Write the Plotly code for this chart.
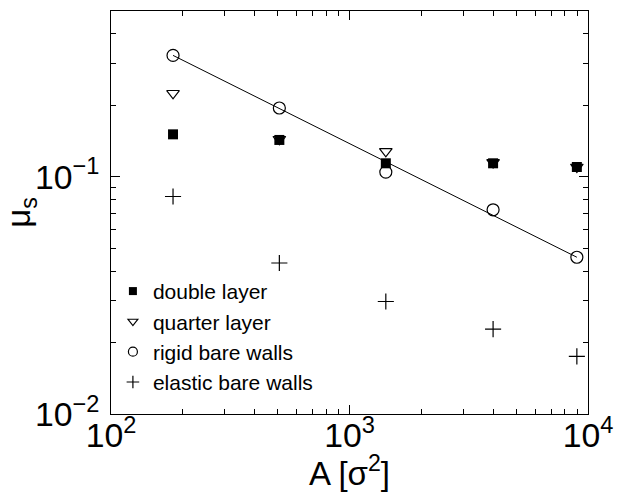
import plotly.graph_objects as go

# Data
area = [182, 508, 1420, 4000, 8980]            # A [sigma^2]
double_layer = [0.151, 0.143, 0.114, 0.114, 0.110]
quarter_layer = [0.225, 0.144, 0.128, 0.115, 0.110]
rigid_bare = [0.325, 0.195, 0.1047, 0.0726, 0.0458]
elastic_bare = [0.0826, 0.0433, 0.0298, 0.0228, 0.0175]

# Power-law fit through rigid bare walls data (endpoints)
fit_x = [182, 8980]
fit_y = [0.325, 0.0458]

FONT = "Liberation Sans, Arial, Helvetica, sans-serif"

series = [
    ("double layer", double_layer, "square", 10, 8, 0),
    ("quarter layer", quarter_layer, "triangle-down-open", 11, 8.5, 1.2),
    ("rigid bare walls", rigid_bare, "circle-open", 12, 9, 1.2),
    ("elastic bare walls", elastic_bare, "cross-thin-open", 11.5, 9, 1.2),
]

fig = go.Figure()

fig.add_trace(go.Scatter(
    x=fit_x, y=fit_y, mode="lines",
    line=dict(color="black", width=1), showlegend=False, hoverinfo="skip"))

for name, vals, sym, size, lsize, lw in series:
    # data markers
    fig.add_trace(go.Scatter(
        x=area, y=vals, mode="markers", name=name, showlegend=False,
        marker=dict(symbol=sym, size=size, color="black",
                    line=dict(width=lw, color="black"))))
    # legend entry (smaller symbol, as in the reference)
    fig.add_trace(go.Scatter(
        x=[None], y=[None], mode="markers", name=name,
        marker=dict(symbol=sym, size=lsize, color="black",
                    line=dict(width=lw, color="black"))))

axis_common = dict(
    type="log", automargin=False,
    showgrid=False, zeroline=False,
    showline=True, linecolor="black", linewidth=1.2, mirror="allticks",
    ticks="inside", ticklen=9, tickwidth=1, tickcolor="black",
    dtick=1, exponentformat="power",
    tickfont=dict(family=FONT, size=27, color="black"),
    minor=dict(ticks="inside", ticklen=5, tickwidth=1, tickcolor="black",
               dtick="D1", showgrid=False),
)

fig.update_xaxes(
    range=[2, 4],
    title=dict(text="A [σ<sup>2</sup>]", font=dict(family=FONT, size=33, color="black"),
               standoff=21),
    ticklabelstandoff=-7,
    **axis_common)

fig.update_yaxes(
    range=[-2, -0.30103],
    title=dict(text="μ<sub>s</sub>", font=dict(family=FONT, size=33, color="black"),
               standoff=3),
    ticklabelstandoff=5,
    **axis_common)

fig.update_layout(
    width=630, height=492,
    margin=dict(l=111, r=42, t=11, b=78),
    paper_bgcolor="white", plot_bgcolor="white",
    font=dict(family=FONT, color="black"),
    legend=dict(x=0.004, y=0.355, xanchor="left", yanchor="top",
                bgcolor="rgba(0,0,0,0)", borderwidth=0,
                font=dict(family=FONT, size=21, color="black")),
)

fig.write_html("out.html", config={"displayModeBar": False},
               post_script="document.body.style.margin='0';document.body.style.overflow='hidden';")
